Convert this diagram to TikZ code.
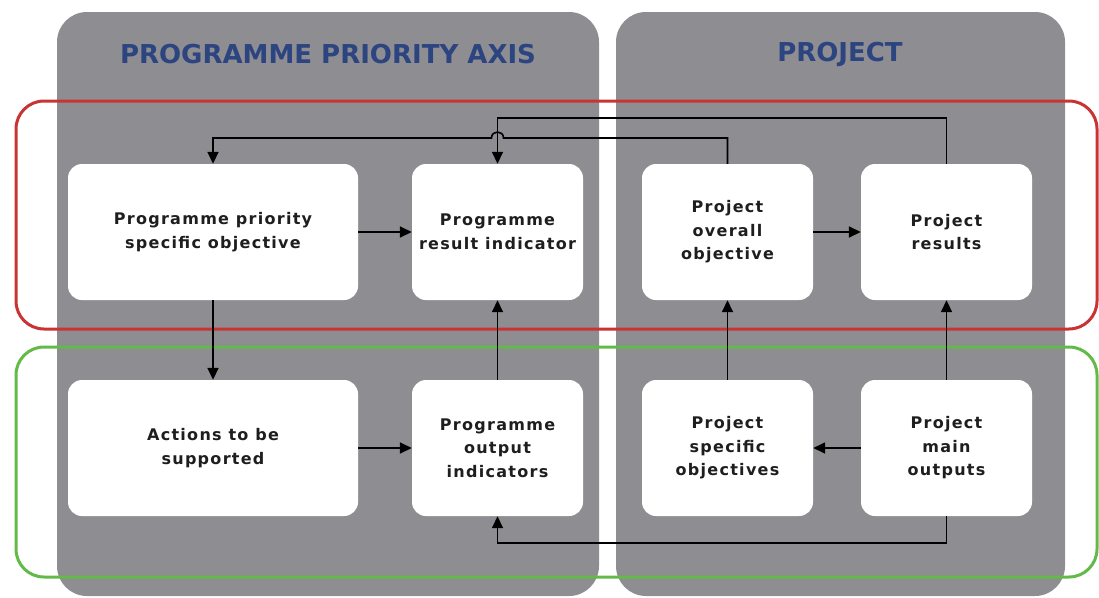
\documentclass[tikz,border=0pt]{standalone}
\usepackage{fontspec}
\setmainfont{DejaVu Sans}
\newfontfamily\boxfont[LetterSpace=8]{DejaVu Sans}
\usetikzlibrary{arrows.meta,calc}
\definecolor{panelgrey}{RGB}{142,141,146}
\definecolor{framered}{RGB}{200,52,52}
\definecolor{framegreen}{RGB}{98,186,72}
\definecolor{titleblue}{RGB}{44,68,128}
\definecolor{boxtext}{RGB}{30,30,30}

\begin{document}
\begin{tikzpicture}[x=1pt,y=-1pt,
		panel/.style={fill=panelgrey, rounded corners=30pt},
		frame/.style={line width=3pt, rounded corners=28pt},
		box/.style={fill=white, rounded corners=14pt, inner sep=0pt, minimum width=171pt, minimum height=136pt, align=center, text=boxtext, font=\boxfont\bfseries\fontsize{16}{23.5}\selectfont},
		heading/.style={text=titleblue, font=\bfseries\fontsize{26}{30}\selectfont},
		link/.style={line width=1.6pt, -{Triangle[length=12pt,width=11pt]}}]
			\useasboundingbox (0,0) rectangle (1099,597);
			\fill[panel] (57,12) rectangle (599,596);
			\fill[panel] (616,12) rectangle (1065,596);
			\node[heading] (axistitle) at (328,54) {PROGRAMME PRIORITY AXIS};
			\node[heading] (projtitle) at (840,54) {PROJECT};
			\draw[frame, framered] (16,101) rectangle (1097,329);
			\draw[frame, framegreen] (16,347) rectangle (1097,577);
			\coordinate (toprail) at (0,118);
			\coordinate (midrail) at (0,138);
			\coordinate (botrail) at (0,543);
			\node[box, minimum width=290pt] (prso) at (213,232) {Programme priority\\specific objective};
			\node[box] (prri) at (497.5,232) {Programme\\result indicator};
			\node[box] (proo) at (727.5,232) {Project\\overall\\objective};
			\node[box] (prres) at (946.5,232) {Project\\results};
			\node[box, minimum width=290pt] (act) at (213,448) {Actions to be\\supported};
			\node[box] (proi) at (497.5,448) {Programme\\output\\indicators};
			\node[box] (pso) at (727.5,448) {Project\\specific\\objectives};
			\node[box] (pmo) at (946.5,448) {Project\\main\\outputs};
			\draw[link] (prso) -- (prri);
			\draw[link] (proo) -- (prres);
			\draw[link] (act) -- (proi);
			\draw[link] (pmo) -- (pso);
			\draw[link] (prso) -- (act);
			\draw[link] (proi) -- (prri);
			\draw[link] (pso) -- (proo);
			\draw[link] (pmo) -- (prres);
			\draw[link] (prres.north) |- (prri.north |- toprail) -- (prri.north);
			\draw[link] (proo.north) |- ($(prri.north |- midrail)+(6,0)$) .. controls ($(prri.north |- midrail)+(6,-8)$) and ($(prri.north |- midrail)+(-6,-8)$) .. ($(prri.north |- midrail)+(-6,0)$) -| (prso.north);
			\draw[link] (pmo.south) |- (proi.south |- botrail) -- (proi.south);
		\end{tikzpicture}
\end{document}
